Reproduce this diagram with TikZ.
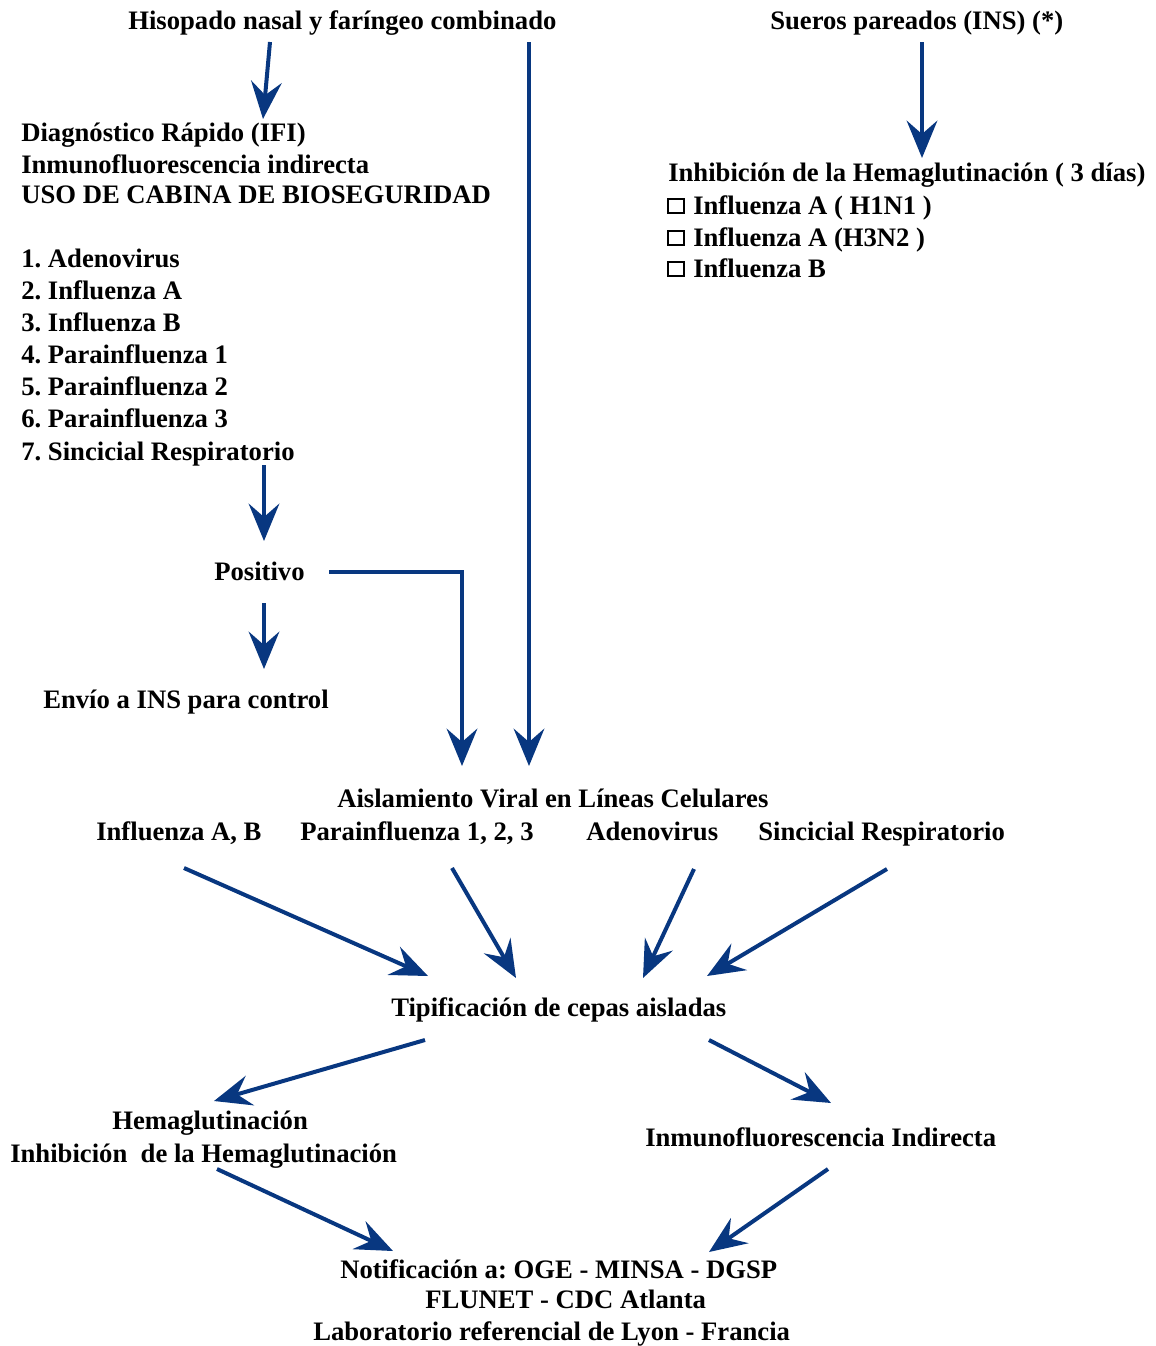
\documentclass[tikz,border=0pt]{standalone}
\usepackage{fontspec}
\setmainfont{Liberation Serif}
\usetikzlibrary{arrows.meta}
\definecolor{arrowblue}{RGB}{8,55,128}
\frenchspacing
\tikzset{
  txt/.style={anchor=base west, inner sep=0pt, font=\fontsize{20}{24}\selectfont\bfseries\frenchspacing, text=black},
  flow/.style={draw=arrowblue, line width=3pt, -{Stealth[length=28pt, width=23pt, inset=10pt]}},
  chk/.style={draw=black, line width=1.6pt}
}
\begin{document}
\begin{tikzpicture}[x=0.75pt, y=-0.75pt]
\useasboundingbox (0,0) rectangle (1156,1346);
% texts
\node[txt] (hiso) at (128,29) {Hisopado nasal y faríngeo combinado};
\node[txt] (sueros) at (770,29) {Sueros pareados (INS) (*)};
\node[txt] (diag1) at (21,141) {Diagnóstico Rápido (IFI)};
\node[txt] (diag2) at (21,173) {Inmunofluorescencia indirecta};
\node[txt] (diag3) at (21,203) {USO DE CABINA DE BIOSEGURIDAD};
\node[txt] (l1) at (21,267) {1.\ Adenovirus};
\node[txt] (l2) at (21,299) {2.\ Influenza A};
\node[txt] (l3) at (21,331) {3.\ Influenza B};
\node[txt] (l4) at (21,363) {4.\ Parainfluenza 1};
\node[txt] (l5) at (21,395) {5.\ Parainfluenza 2};
\node[txt] (l6) at (21,427) {6.\ Parainfluenza 3};
\node[txt] (l7) at (21,460) {7.\ Sincicial Respiratorio};
\node[txt] (inhib) at (668,181) {Inhibición de la Hemaglutinación ( 3 días)};
\node[txt] (c1) at (693,214) {Influenza A ( H1N1 )};
\node[txt] (c2) at (693,246) {Influenza A (H3N2 )};
\node[txt] (c3) at (693,277) {Influenza B};
\draw[chk] (668,199) rectangle (684,213);
\draw[chk] (668,231) rectangle (684,245);
\draw[chk] (668,262) rectangle (684,276);
\node[txt] (pos) at (214,580) {Positivo};
\node[txt] (envio) at (43,708) {Envío a INS para control};
\node[txt] (aisl) at (337,807) {Aislamiento Viral en Líneas Celulares};
\node[txt] (infab) at (96,840) {Influenza A, B};
\node[txt] (para) at (300,840) {Parainfluenza 1, 2, 3};
\node[txt] (adeno) at (586,840) {Adenovirus};
\node[txt] (sinc) at (758,840) {Sincicial Respiratorio};
\node[txt] (tipi) at (391,1016) {Tipificación de cepas aisladas};
\node[txt] (hema1) at (112,1129) {Hemaglutinación};
\node[txt] (hema2) at (10,1162) {Inhibición\ \ de la Hemaglutinación};
\node[txt] (ifi) at (645,1146) {Inmunofluorescencia Indirecta};
\node[txt] (not1) at (340,1278) {Notificación a: OGE - MINSA - DGSP};
\node[txt] (not2) at (425,1308) {FLUNET - CDC Atlanta};
\node[txt] (not3) at (313,1340) {Laboratorio referencial de Lyon - Francia};
% coordinates
\coordinate (a1s) at (270,42);  \coordinate (a1e) at (263,119);
\coordinate (a2s) at (529,42);  \coordinate (a2e) at (529,766);
\coordinate (a3s) at (922,42);  \coordinate (a3e) at (922,158);
\coordinate (a4s) at (264,465); \coordinate (a4e) at (264,541);
\coordinate (a5s) at (264,603); \coordinate (a5e) at (264,669);
\coordinate (a6s) at (329,572); \coordinate (a6m) at (462,572); \coordinate (a6e) at (462,766);
\coordinate (a7s) at (184,868); \coordinate (a7e) at (428,976);
\coordinate (a8s) at (452,868); \coordinate (a8e) at (516,978);
\coordinate (a9s) at (694,869); \coordinate (a9e) at (643,978);
\coordinate (a10s) at (887,869); \coordinate (a10e) at (707,976);
\coordinate (a11s) at (425,1040); \coordinate (a11e) at (214,1101);
\coordinate (a12s) at (709,1040); \coordinate (a12e) at (831,1103);
\coordinate (a13s) at (217,1169); \coordinate (a13e) at (393,1251);
\coordinate (a14s) at (828,1169); \coordinate (a14e) at (709,1252);
% arrows
\draw[flow] (a1s) -- (a1e);
\draw[flow] (a2s) -- (a2e);
\draw[flow] (a3s) -- (a3e);
\draw[flow] (a4s) -- (a4e);
\draw[flow] (a5s) -- (a5e);
\draw[flow] (a6s) -- (a6m) -- (a6e);
\draw[flow] (a7s) -- (a7e);
\draw[flow] (a8s) -- (a8e);
\draw[flow] (a9s) -- (a9e);
\draw[flow] (a10s) -- (a10e);
\draw[flow] (a11s) -- (a11e);
\draw[flow] (a12s) -- (a12e);
\draw[flow] (a13s) -- (a13e);
\draw[flow] (a14s) -- (a14e);
\end{tikzpicture}
\end{document}
